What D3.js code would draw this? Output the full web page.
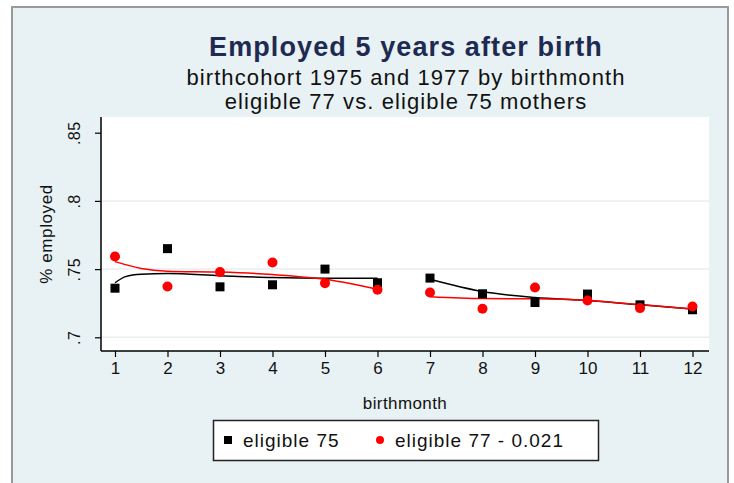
<!DOCTYPE html>
<html>
<head>
<meta charset="utf-8">
<script src="https://cdn.jsdelivr.net/npm/d3@7"></script>
<style>
  body { margin: 0; background: #fff; }
  text { font-family: "Liberation Sans", Arial, sans-serif; }
</style>
</head>
<body>
<div id="chart"></div>
<script>
// data
var months = [1, 2, 3, 4, 5, 6, 7, 8, 9, 10, 11, 12];
var elig75 = [0.736, 0.765, 0.737, 0.7385, 0.750, 0.740, 0.7434, 0.7319, 0.7255, 0.7317, 0.7238, 0.7202];
var elig77 = [0.7592, 0.7372, 0.7478, 0.7548, 0.7397, 0.7348, 0.7329, 0.7209, 0.7365, 0.727, 0.7214, 0.7226];

// smoothed fits, drawn separately for months 1-6 and 7-12
var fit75_a_x = [1, 1.2, 1.5, 2, 3, 4, 5, 6];
var fit75_a_y = [0.740, 0.7445, 0.7463, 0.7468, 0.7452, 0.7438, 0.7433, 0.7433];
var fit77_a_x = [1, 1.5, 2, 3, 4, 5, 5.5, 6];
var fit77_a_y = [0.7555, 0.7505, 0.7485, 0.7478, 0.746, 0.7425, 0.7392, 0.7352];
var fit75_b_x = [7, 8, 9, 10, 11, 12];
var fit75_b_y = [0.7425, 0.7335, 0.7292, 0.727, 0.7238, 0.7207];
var fit77_b_x = [7, 8, 9, 10, 11, 12];
var fit77_b_y = [0.7298, 0.7284, 0.7282, 0.727, 0.724, 0.7207];

var yTicks = [0.7, 0.75, 0.8, 0.85];
var yTickLabels = [".7", ".75", ".8", ".85"];
var legendLabels = ["eligible 75", "eligible 77 - 0.021"];

var W = 734, H = 483;
var bg = "#e8f1f3";

var svg = d3.select("#chart").append("svg")
    .attr("width", W)
    .attr("height", H);

// outer graph region
svg.append("rect")
    .attr("x", 12).attr("y", 7)
    .attr("width", 716).attr("height", H)
    .attr("fill", bg)
    .attr("stroke", "#9a9a9a")
    .attr("stroke-width", 2);

// plot region
var plot = { left: 101, right: 709, top: 117, bottom: 351 };

svg.append("rect")
    .attr("x", plot.left).attr("y", plot.top)
    .attr("width", plot.right - plot.left)
    .attr("height", plot.bottom - plot.top)
    .attr("fill", "#fff");

var x = d3.scaleLinear().domain([1, 12]).range([115, 692.5]);
var y = d3.scaleLinear().domain([0.7, 0.85]).range([337.3, 132.7]);

// gridlines
svg.append("g").selectAll("line")
    .data(yTicks.slice(0, 3))
  .enter().append("line")
    .attr("x1", plot.left).attr("x2", plot.right)
    .attr("y1", function(d) { return y(d); })
    .attr("y2", function(d) { return y(d); })
    .attr("stroke", "#e6eef2")
    .attr("stroke-width", 1.5);

// y axis
var yAxis = d3.axisLeft(y)
    .tickValues(yTicks)
    .tickFormat(function(d, i) { return yTickLabels[i]; })
    .tickSize(6)
    .tickPadding(4);

var gy = svg.append("g")
    .attr("transform", "translate(" + plot.left + ",0)")
    .call(yAxis);
gy.select(".domain").attr("d", "M0," + plot.top + "V" + plot.bottom).attr("stroke", "#000").attr("stroke-width", 1.5);
gy.selectAll(".tick line").attr("stroke", "#000").attr("stroke-width", 1.2);
gy.selectAll(".tick text")
    .attr("font-size", 16)
    .attr("letter-spacing", 0.5)
    .attr("fill", "#111")
    .attr("x", 0).attr("dy", 0)
    .attr("text-anchor", "middle")
    .attr("transform", "translate(-21,0) rotate(-90)");

// x axis
var xAxis = d3.axisBottom(x)
    .tickValues(months)
    .tickFormat(d3.format("d"))
    .tickSize(6)
    .tickPadding(5);

var gx = svg.append("g")
    .attr("transform", "translate(0," + plot.bottom + ")")
    .call(xAxis);
gx.select(".domain").attr("d", "M" + plot.left + ",0H" + plot.right).attr("stroke", "#000").attr("stroke-width", 1.5);
gx.selectAll(".tick line").attr("stroke", "#000").attr("stroke-width", 1.2);
gx.selectAll(".tick text").attr("font-size", 17).attr("fill", "#111");

// axis titles
svg.append("text")
    .attr("transform", "translate(52," + ((plot.top + plot.bottom) / 2) + ") rotate(-90)")
    .attr("text-anchor", "middle")
    .attr("font-size", 17)
    .attr("letter-spacing", 0.6)
    .attr("fill", "#111")
    .text("% employed");

svg.append("text")
    .attr("x", 405).attr("y", 409)
    .attr("text-anchor", "middle")
    .attr("font-size", 17)
    .attr("letter-spacing", 0.4)
    .attr("fill", "#111")
    .text("birthmonth");

// titles
svg.append("text")
    .attr("x", 406).attr("y", 56)
    .attr("text-anchor", "middle")
    .attr("font-size", 27)
    .attr("font-weight", "bold")
    .attr("letter-spacing", 1.1)
    .attr("fill", "#1e2a52")
    .text("Employed 5 years after birth");

svg.append("text")
    .attr("x", 406).attr("y", 85)
    .attr("text-anchor", "middle")
    .attr("font-size", 22)
    .attr("letter-spacing", 1.1)
    .attr("fill", "#111")
    .text("birthcohort 1975 and 1977 by birthmonth");

svg.append("text")
    .attr("x", 406).attr("y", 109)
    .attr("text-anchor", "middle")
    .attr("font-size", 22)
    .attr("letter-spacing", 1.1)
    .attr("fill", "#111")
    .text("eligible 77 vs. eligible 75 mothers");

// fitted lines
var line = d3.line()
    .x(function(d) { return x(d[0]); })
    .y(function(d) { return y(d[1]); })
    .curve(d3.curveMonotoneX);

var draw_fit = function(xs, ys, colour) {
  svg.append("path")
      .datum(d3.zip(xs, ys))
      .attr("d", line)
      .attr("fill", "none")
      .attr("stroke", colour)
      .attr("stroke-width", 1.5);
}

draw_fit(fit75_a_x, fit75_a_y, "#000");
draw_fit(fit75_b_x, fit75_b_y, "#000");
draw_fit(fit77_a_x, fit77_a_y, "#ff0000");
draw_fit(fit77_b_x, fit77_b_y, "#ff0000");

// points
var sq = 9;
svg.append("g").selectAll("rect")
    .data(d3.zip(months, elig75))
  .enter().append("rect")
    .attr("x", function(d) { return x(d[0]) - sq / 2; })
    .attr("y", function(d) { return y(d[1]) - sq / 2; })
    .attr("width", sq).attr("height", sq)
    .attr("fill", "#000");

svg.append("g").selectAll("circle")
    .data(d3.zip(months, elig77))
  .enter().append("circle")
    .attr("cx", function(d) { return x(d[0]); })
    .attr("cy", function(d) { return y(d[1]); })
    .attr("r", 5)
    .attr("fill", "#ff0000");

// legend
var legend = svg.append("g");
legend.append("rect")
    .attr("x", 213.5).attr("y", 420.5)
    .attr("width", 385).attr("height", 40)
    .attr("fill", "#fff")
    .attr("stroke", "#222")
    .attr("stroke-width", 1.5);

legend.append("rect")
    .attr("x", 224).attr("y", 436)
    .attr("width", 8).attr("height", 8)
    .attr("fill", "#000");
legend.append("circle")
    .attr("cx", 380).attr("cy", 440)
    .attr("r", 4)
    .attr("fill", "#ff0000");

legend.selectAll("text")
    .data(legendLabels)
  .enter().append("text")
    .attr("x", function(d, i) { return i == 0 ? 243 : 395; })
    .attr("y", 447)
    .attr("font-size", 19)
    .attr("letter-spacing", 1)
    .attr("fill", "#111")
    .text(function(d) { return d; });
</script>
</body>
</html>
